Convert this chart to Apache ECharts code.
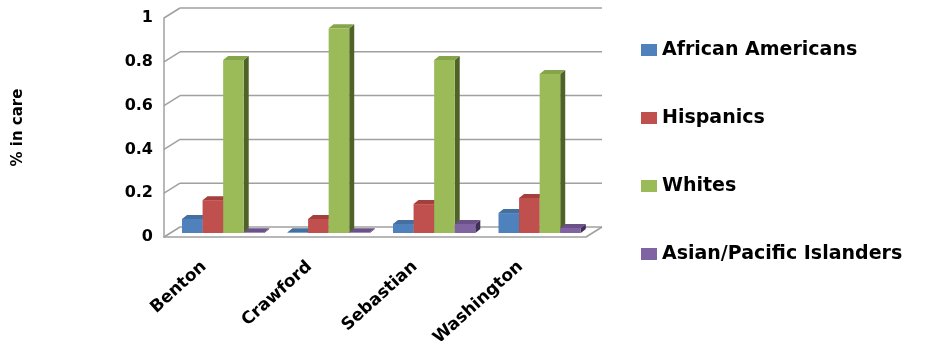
<!DOCTYPE html>
<html>
<head>
<meta charset="utf-8">
<script src="https://cdn.jsdelivr.net/npm/echarts@6/dist/echarts.min.js"></script>
<style>
  html, body { margin: 0; padding: 0; background: #fff; }
  #chart { width: 927px; height: 341px; }
</style>
</head>
<body>
<div id="chart"></div>
<script>
const categories = ['Benton', 'Crawford', 'Sebastian', 'Washington'];
const africanAmericans = [0.064, 0.003, 0.041, 0.091];
const hispanics = [0.15, 0.064, 0.132, 0.16];
const whites = [0.79, 0.935, 0.79, 0.726];
const asianPacific = [0.003, 0.003, 0.041, 0.023];
const yTicks = [0, 0.2, 0.4, 0.6, 0.8, 1];

// offset from the front plane (axes) to the back wall, for the fake 3D look
const DEPTH = [16, -10];
const BAR_SHIFT = 0.4;
const BAR_DX = 5;
const BAR_DY = -4;

const groups = [
  { name: 'African Americans', data: africanAmericans, color: '#4F81BD', top: '#44709f', side: '#2c4a6e' },
  { name: 'Hispanics', data: hispanics, color: '#C0504D', top: '#a43f3c', side: '#6e2523' },
  { name: 'Whites', data: whites, color: '#9BBB59', top: '#86a44a', side: '#4f6228' },
  { name: 'Asian/Pacific Islanders', data: asianPacific, color: '#8064A2', top: '#6a5288', side: '#3f2f55' },
];

const bold = { fontFamily: 'DejaVu Sans', fontWeight: 'bold', color: '#000' };

function wallRenderer(params, api) {
  const cs = params.coordSys;
  const y = api.coord([0, api.value(1)])[1];
  const x0 = cs.x;
  const x1 = cs.x + cs.width;
  const line = { stroke: '#a0a0a0', lineWidth: 1.5 };
  const children = [
    { type: 'line', shape: { x1: x0 + DEPTH[0], y1: y + DEPTH[1], x2: x1 + DEPTH[0], y2: y + DEPTH[1] }, style: line },
    { type: 'line', shape: { x1: x0, y1: y, x2: x0 + DEPTH[0], y2: y + DEPTH[1] }, style: line },
  ];
  if (api.value(1) === 0) {
    children.push({ type: 'line', shape: { x1: x1, y1: y, x2: x1 + DEPTH[0], y2: y + DEPTH[1] }, style: line });
  }
  return { type: 'group', children: children };
}

function barRenderer(k, g) {
  return function (params, api) {
    const base = api.coord([api.value(0), 0]);
    const top = api.coord([api.value(0), api.value(1)]);
    const band = api.size([1, 0])[0];
    const w = band * 0.195;
    const x = base[0] - 2 * w + k * w + DEPTH[0] * BAR_SHIFT;
    const yb = base[1] + DEPTH[1] * BAR_SHIFT;
    const yt = top[1] + DEPTH[1] * BAR_SHIFT;
    return {
      type: 'group',
      children: [
        {
          type: 'polygon',
          shape: { points: [[x + w, yb], [x + w + BAR_DX, yb + BAR_DY], [x + w + BAR_DX, yt + BAR_DY], [x + w, yt]] },
          style: { fill: g.side },
        },
        {
          type: 'polygon',
          shape: { points: [[x, yt], [x + BAR_DX, yt + BAR_DY], [x + w + BAR_DX, yt + BAR_DY], [x + w, yt]] },
          style: { fill: g.top },
        },
        { type: 'rect', shape: { x: x, y: yt, width: w, height: yb - yt }, style: { fill: g.color } },
      ],
    };
  };
}

const chart = echarts.init(document.getElementById('chart'), null, { renderer: 'canvas' });

const series = [
  {
    type: 'custom',
    name: 'walls',
    silent: true,
    z: 1,
    renderItem: wallRenderer,
    data: yTicks.map((v) => [0, v]),
  },
];
groups.forEach((g, k) => {
  series.push({
    type: 'custom',
    name: g.name,
    z: 2,
    itemStyle: { color: g.color },
    renderItem: barRenderer(k, g),
    encode: { x: 0, y: 1 },
    data: categories.map((c, i) => [i, g.data[i]]),
  });
});

chart.setOption({
  animation: false,
  grid: { left: 164, right: 341, top: 18, bottom: 104, outerBoundsMode: 'none', containLabel: false },
  legend: {
    data: groups.map((g) => g.name),
    orient: 'vertical',
    left: 636,
    top: 35,
    itemWidth: 16,
    itemHeight: 12,
    itemGap: 48,
    icon: 'rect',
    textStyle: Object.assign({ fontSize: 19, lineHeight: 20 }, bold),
  },
  xAxis: {
    type: 'category',
    data: categories,
    axisLine: { lineStyle: { color: '#a0a0a0', width: 1.5 } },
    axisTick: { show: false },
    axisLabel: Object.assign({ fontSize: 17, rotate: 42, margin: 16, padding: [0, 17, 0, 0], interval: 0 }, bold),
  },
  yAxis: {
    type: 'value',
    min: 0,
    max: 1,
    interval: 0.2,
    name: '% in care',
    nameLocation: 'middle',
    nameRotate: 90,
    nameGap: 138,
    nameTextStyle: Object.assign({ fontSize: 15 }, bold),
    axisLine: { show: true, lineStyle: { color: '#a0a0a0', width: 1.5 } },
    axisTick: { show: false },
    splitLine: { show: false },
    axisLabel: Object.assign({ fontSize: 16, margin: 11 }, bold),
  },
  series: series,
});
</script>
</body>
</html>
